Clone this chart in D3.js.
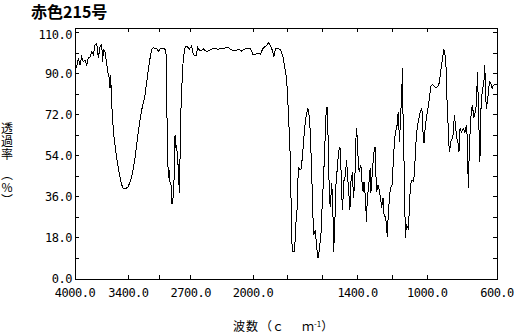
<!DOCTYPE html>
<html>
<head>
<meta charset="utf-8">
<script src="https://cdn.jsdelivr.net/npm/d3@7"></script>
<style>
  body { margin: 0; background: #fff; }
  svg { display: block; }
</style>
</head>
<body>
<script>
const width = 515;
const height = 334;

// wavenumber (cm-1)
const wavenumbers = [
  4000, 3981, 3963, 3944, 3925, 3907, 3888, 3869, 3851, 3831, 3812, 3794, 3775, 3756, 3738, 3719,
  3700, 3689, 3682, 3663, 3652, 3637, 3626, 3615, 3607, 3599, 3588, 3576, 3570, 3551, 3531, 3513,
  3494, 3475, 3457, 3438, 3419, 3401, 3382, 3363, 3345, 3326, 3307, 3289, 3270, 3251, 3233, 3213,
  3194, 3176, 3157, 3138, 3120, 3101, 3082, 3064, 3045, 3008, 2978, 2963, 2952, 2940, 2933, 2921,
  2913, 2902, 2888, 2876, 2865, 2857, 2846, 2839, 2828, 2820, 2809, 2794, 2783, 2764, 2745, 2716,
  2689, 2671, 2640, 2621, 2596, 2558, 2520, 2483, 2446, 2390, 2334, 2278, 2240, 2202, 2165, 2127,
  2090, 2053, 2026, 2003, 1989, 1970, 1956, 1945, 1932, 1919, 1909, 1899, 1890, 1880, 1871, 1856,
  1841, 1828, 1818, 1808, 1803, 1795, 1789, 1784, 1778, 1771, 1761, 1755, 1748, 1742, 1737, 1729,
  1723, 1714, 1704, 1694, 1685, 1680, 1672, 1666, 1660, 1657, 1651, 1643, 1637, 1628, 1623, 1615,
  1609, 1603, 1596, 1590, 1581, 1575, 1567, 1562, 1556, 1549, 1543, 1537, 1529, 1524, 1515, 1509,
  1501, 1495, 1490, 1486, 1480, 1471, 1463, 1458, 1448, 1444, 1438, 1429, 1424, 1416, 1410, 1405,
  1399, 1391, 1381, 1376, 1368, 1363, 1353, 1350, 1344, 1334, 1328, 1324, 1319, 1311, 1306, 1300,
  1296, 1290, 1283, 1278, 1268, 1262, 1254, 1249, 1239, 1233, 1230, 1224, 1216, 1211, 1202, 1196,
  1188, 1182, 1173, 1167, 1159, 1154, 1148, 1142, 1139, 1133, 1129, 1125, 1120, 1110, 1103, 1097,
  1088, 1078, 1072, 1068, 1063, 1055, 1050, 1040, 1031, 1025, 1019, 1011, 1002, 993, 987, 980,
  970, 960, 951, 940, 932, 923, 913, 905, 898, 892, 889, 883, 877, 872, 866, 860,
  850, 845, 837, 832, 826, 818, 812, 803, 794, 784, 775, 769, 765, 759, 752, 746,
  741, 733, 727, 718, 712, 708, 702, 698, 693, 685, 675, 670, 666, 661, 651, 643,
  636, 628, 620, 600
];

// transmittance (%) at each wavenumber
const transmittance = [
  94.5, 93.0, 96.7, 93.8, 97.4, 95.2, 96.0, 93.8, 96.7, 97.4, 99.6, 98.2, 102.6, 103.3, 96.7, 101.8,
  102.6, 95.2, 100.4, 99.6, 96.7, 92.3, 89.4, 88.0, 83.6, 89.4, 76.3, 70.4, 64.6, 58.7, 52.9, 48.5,
  44.8, 41.2, 39.7, 39.4, 40.0, 40.5, 42.6, 44.8, 48.5, 52.9, 58.7, 64.6, 69.7, 74.1, 77.0, 80.6,
  86.5, 91.6, 96.7, 100.8, 101.4, 100.8, 101.1, 99.6, 100.8, 101.1, 100.4, 63.1, 44.1, 47.8, 42.6, 41.2,
  33.2, 33.2, 42.6, 63.1, 57.3, 58.7, 50.0, 50.0, 37.6, 52.9, 74.8, 89.4, 96.7, 101.4, 102.1, 100.8,
  102.2, 98.2, 97.9, 101.4, 99.9, 100.8, 99.6, 100.4, 101.1, 100.7, 101.1, 101.4, 100.4, 99.9, 100.8, 99.9,
  100.8, 101.1, 100.8, 98.5, 98.5, 98.9, 98.5, 100.8, 101.8, 102.6, 103.7, 102.2, 100.4, 97.4, 100.8, 101.1,
  100.4, 97.4, 93.0, 88.0, 82.8, 68.9, 60.2, 45.6, 16.3, 12.0, 12.3, 23.7, 28.8, 44.1, 48.5, 47.8,
  48.5, 55.8, 66.0, 71.9, 74.8, 73.1, 65.3, 52.9, 38.3, 28.8, 19.3, 21.5, 16.3, 9.1, 10.5, 16.3,
  20.7, 32.4, 42.6, 54.3, 71.9, 75.5, 57.3, 35.4, 31.7, 41.9, 35.4, 12.0, 28.0, 41.2, 50.0, 55.8,
  58.0, 47.8, 35.4, 30.2, 42.6, 44.8, 52.2, 45.6, 35.4, 30.2, 42.6, 47.0, 35.4, 42.6, 60.9, 66.0,
  55.8, 47.0, 50.0, 43.4, 38.3, 42.6, 33.9, 25.1, 35.4, 42.6, 48.5, 37.6, 42.6, 51.4, 55.6, 58.0,
  47.8, 38.3, 41.2, 39.7, 35.4, 31.0, 35.4, 28.8, 26.6, 23.7, 18.5, 28.0, 36.8, 39.7, 41.2, 50.0,
  60.9, 64.6, 67.5, 73.3, 60.2, 70.4, 78.4, 92.3, 70.4, 50.0, 31.0, 17.8, 23.7, 22.2, 29.5, 41.2,
  43.4, 42.6, 50.0, 54.3, 63.1, 67.5, 69.7, 73.3, 74.8, 64.6, 59.5, 67.5, 71.9, 76.3, 79.9, 84.3,
  85.3, 84.3, 83.8, 84.3, 85.8, 90.8, 96.7, 100.7, 98.2, 92.3, 82.1, 72.6, 59.5, 55.8, 60.2, 60.9,
  63.9, 71.9, 66.7, 61.7, 60.9, 55.8, 66.0, 64.3, 66.0, 64.3, 67.5, 59.3, 39.7, 55.8, 68.9, 74.1,
  76.3, 70.4, 72.6, 76.3, 90.8, 79.2, 61.7, 51.4, 73.3, 82.1, 86.5, 93.8, 82.1, 74.6, 80.6, 86.5,
  85.8, 83.6, 85.0, 85.3
];

const xTickLabels = [4000, 3400, 2700, 2000, 1400, 1000, 600];
const xMinorTicks = [3050, 1800, 1600, 1200];
const yTickLabels = [0, 18, 36, 54, 72, 90, 110];
const yTicks = [0, 9, 18, 27, 36, 45, 54, 63, 72, 81, 90, 99, 108];

const svg = d3.select("body").append("svg")
  .attr("width", width)
  .attr("height", height);

// two-scale wavenumber axis (4000-2000 compressed)
const x = d3.scaleLinear()
  .domain([4000, 2000, 600])
  .range([75, 253, 497]);

const y = d3.scaleLinear()
  .domain([0, 110])
  .range([279, 28]);

const plotLeft = x(4000), plotRight = x(600), plotTop = y(110), plotBottom = y(0);
const tickLen = 4;
const numFont = "'DejaVu Sans Mono', 'Liberation Mono', monospace";
const jpFont = "'Noto Sans CJK JP', 'Noto Sans CJK SC', sans-serif";

// title
svg.append("text")
  .attr("x", 31)
  .attr("y", 18)
  .attr("font-family", jpFont)
  .attr("font-weight", "bold")
  .attr("font-size", 16)
  .attr("fill", "#000")
  .text("赤色215号");

// frame
svg.append("rect")
  .attr("x", plotLeft)
  .attr("y", plotTop)
  .attr("width", plotRight - plotLeft)
  .attr("height", plotBottom - plotTop)
  .attr("fill", "none")
  .attr("stroke", "#000")
  .attr("stroke-width", 1)
  .attr("shape-rendering", "crispEdges");

const ticks = svg.append("g")
  .attr("stroke", "#000")
  .attr("stroke-width", 1)
  .attr("shape-rendering", "crispEdges");

const xTicks = xTickLabels.concat(xMinorTicks).filter(v => v !== 4000 && v !== 600);

xTicks.forEach(function (v) {
  ticks.append("line")
    .attr("x1", x(v)).attr("x2", x(v))
    .attr("y1", plotBottom).attr("y2", plotBottom - tickLen);
  ticks.append("line")
    .attr("x1", x(v)).attr("x2", x(v))
    .attr("y1", plotTop).attr("y2", plotTop + tickLen);
});

yTicks.forEach(function (v) {
  ticks.append("line")
    .attr("x1", plotLeft).attr("x2", plotLeft + tickLen)
    .attr("y1", y(v)).attr("y2", y(v));
  ticks.append("line")
    .attr("x1", plotRight).attr("x2", plotRight - tickLen)
    .attr("y1", y(v)).attr("y2", y(v));
});

// x tick labels
svg.selectAll("text.xlab")
  .data(xTickLabels)
  .enter()
  .append("text")
  .attr("class", "xlab")
  .attr("x", d => x(d))
  .attr("y", plotBottom + 18)
  .attr("text-anchor", "middle")
  .attr("font-family", numFont)
  .attr("font-size", 12)
  .attr("letter-spacing", -0.5)
  .attr("fill", "#000")
  .text(d => d.toFixed(1));

// y tick labels (top one held inside the frame)
svg.selectAll("text.ylab")
  .data(yTickLabels)
  .enter()
  .append("text")
  .attr("class", "ylab")
  .attr("x", plotLeft - 3)
  .attr("y", d => Math.max(y(d), plotTop + 7))
  .attr("dy", "0.35em")
  .attr("text-anchor", "end")
  .attr("font-family", numFont)
  .attr("font-size", 12)
  .attr("letter-spacing", -0.5)
  .attr("fill", "#000")
  .text(d => d.toFixed(1));

// spectrum
const points = wavenumbers.map((w, i) => [w, transmittance[i]]);

const line = d3.line()
  .x(d => x(d[0]))
  .y(d => y(d[1]));

svg.append("path")
  .datum(points)
  .attr("d", line)
  .attr("fill", "none")
  .attr("stroke", "#000")
  .attr("stroke-width", 1)
  .attr("shape-rendering", "crispEdges");

// x axis title
const xTitle = svg.append("text")
  .attr("x", 233)
  .attr("y", 331)
  .attr("font-family", jpFont)
  .attr("font-size", 12)
  .attr("fill", "#000");
xTitle.append("tspan").attr("letter-spacing", 1).text("波数");
xTitle.append("tspan").attr("dx", 1).text("（ｃ");
xTitle.append("tspan").attr("dx", 18).text("ｍ");
xTitle.append("tspan").attr("font-size", 8).attr("dy", -4).text("-1");
xTitle.append("tspan").attr("dy", 4).text("）");

// y axis title, written vertically
svg.append("text")
  .attr("x", 7)
  .attr("y", 122)
  .attr("font-family", jpFont)
  .attr("font-size", 12)
  .attr("letter-spacing", 1)
  .attr("fill", "#000")
  .style("writing-mode", "vertical-rl")
  .style("text-orientation", "upright")
  .text("透過率　（%）");
</script>
</body>
</html>
